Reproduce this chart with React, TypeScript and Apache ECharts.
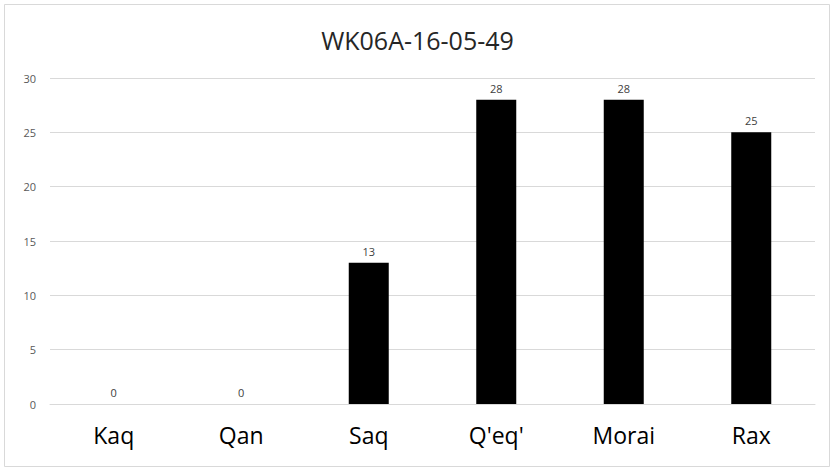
import React, { useEffect, useRef } from "react";
import * as echarts from "echarts";

const categories = ["Kaq", "Qan", "Saq", "Q'eq'", "Morai", "Rax"];
const values = [0, 0, 13, 28, 28, 25];
const titleText = "WK06A-16-05-49";

export default function App() {
  const ref = useRef<HTMLDivElement>(null);
  useEffect(() => {
    const chart = echarts.init(ref.current!, null, { renderer: "svg" });
    chart.setOption({
      animation: false,
      backgroundColor: "#ffffff",
      title: {
        text: titleText,
        left: "center",
        top: 22,
        textStyle: { fontFamily: "Open Sans", fontSize: 25, fontWeight: "normal", color: "#262626" },
      },
      graphic: [
        {
          type: "rect",
          shape: { x: 4.5, y: 4.5, width: 825, height: 462 },
          style: { fill: "none", stroke: "#d9d9d9", lineWidth: 1 },
          silent: true,
        },
      ],
      grid: { left: 50, right: 20, top: 78, bottom: 67, containLabel: false },
      xAxis: {
        type: "category",
        data: categories,
        axisLine: { show: true, lineStyle: { color: "#d9d9d9", width: 1 } },
        axisTick: { show: false },
        axisLabel: { fontFamily: "Open Sans", fontSize: 23, color: "#000000", margin: 19 },
      },
      yAxis: {
        type: "value",
        min: 0,
        max: 30,
        interval: 5,
        axisLine: { show: false },
        axisTick: { show: false },
        splitLine: { lineStyle: { color: "#d9d9d9", width: 1 } },
        axisLabel: { fontFamily: "Open Sans", fontSize: 11, color: "#595959", margin: 14 },
      },
      series: [
        {
          type: "bar",
          data: values,
          barWidth: 40,
          itemStyle: { color: "#000000" },
          label: {
            show: true,
            position: "top",
            distance: 6,
            fontFamily: "Open Sans",
            fontSize: 11,
            color: "#404040",
          },
        },
      ],
    });
    return () => chart.dispose();
  }, []);
  return <div ref={ref} style={{ position: "fixed", left: 0, top: 0, width: 835, height: 471 }} />;
}
